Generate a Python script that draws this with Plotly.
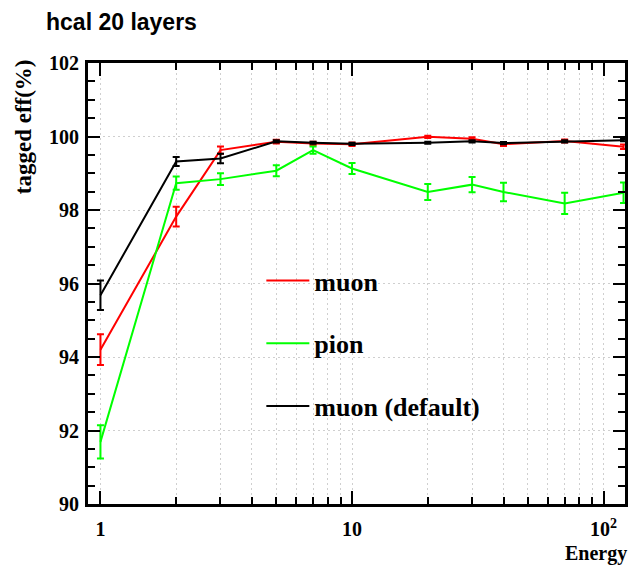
import plotly.graph_objects as go

# Beam energy points (GeV)
energy = [1, 2, 3, 5, 7, 10, 20, 30, 40, 70, 120]

# Tagging efficiency (%) and statistical uncertainties
muon = [94.20, 97.82, 99.63, 99.86, 99.81, 99.79, 99.99, 99.94, 99.79, 99.88, 99.72]
muon_err = [0.42, 0.27, 0.10, 0.05, 0.05, 0.05, 0.03, 0.04, 0.05, 0.04, 0.06]

pion = [91.69, 98.73, 98.84, 99.07, 99.63, 99.13, 98.49, 98.69, 98.49, 98.18, 98.47]
pion_err = [0.45, 0.18, 0.16, 0.15, 0.10, 0.15, 0.22, 0.21, 0.25, 0.29, 0.28]

muon_default = [95.68, 99.32, 99.40, 99.87, 99.83, 99.80, 99.83, 99.87, 99.82, 99.87, 99.90]
muon_default_err = [0.40, 0.12, 0.13, 0.03, 0.03, 0.03, 0.03, 0.03, 0.03, 0.03, 0.03]

series = [
    ("muon", muon, muon_err, "#ff0000"),
    ("pion", pion, pion_err, "#00ff00"),
    ("muon (default)", muon_default, muon_default_err, "#000000"),
]

x_ticks = [1, 10, 100]
x_ticktext = ["1", "10", "10<sup>2</sup>"]

SERIF = "Liberation Serif"
GRID = "#cfcfcf"

fig = go.Figure()
for i, (name, vals, errs, color) in enumerate(series):
    fig.add_trace(go.Scatter(
        x=energy, y=vals, name=name, mode="lines",
        line=dict(color=color, width=2),
        error_y=dict(type="data", array=errs, visible=True,
                     color=color, thickness=2, width=3.5),
        legendgroup=f"g{i}",
    ))

axis_common = dict(
    showline=True, linecolor="black", linewidth=3, mirror="allticks",
    ticks="inside", tickcolor="black", tickwidth=2,
    zeroline=False,
    gridcolor=GRID, griddash="2px,3px", gridwidth=1,
    tickfont=dict(family=SERIF, size=20, color="black", weight="bold"),
)

fig.update_xaxes(
    type="log", range=[-0.0495, 2.085],
    tickvals=x_ticks, ticktext=x_ticktext, ticklen=13,
    showgrid=True,
    minor=dict(dtick="D1", ticks="inside", ticklen=7, tickcolor="black",
               tickwidth=2, showgrid=True, gridcolor=GRID,
               griddash="2px,3px", gridwidth=1),
    ticklabelstandoff=5,
    **axis_common,
)
fig.update_yaxes(
    range=[90, 102], dtick=2, tick0=90, ticklen=12,
    showgrid=True,
    minor=dict(dtick=0.5, ticks="inside", ticklen=7, tickcolor="black",
               tickwidth=2, showgrid=False),
    ticklabelstandoff=2,
    **axis_common,
)

fig.update_layout(
    width=635, height=566,
    margin=dict(l=88, r=7, t=63, b=62),
    paper_bgcolor="white", plot_bgcolor="white",
    title=dict(text="hcal 20 layers", x=46 / 635, xanchor="left",
               y=1 - 22 / 566, yanchor="middle",
               font=dict(family="Liberation Sans", size=23, color="black",
                         weight="bold")),
    showlegend=True,
    legend=dict(x=0.3228, y=0.560, xanchor="left", yanchor="top",
                bgcolor="rgba(0,0,0,0)", borderwidth=0,
                tracegroupgap=26, traceorder="grouped", itemwidth=43,
                font=dict(family=SERIF, size=26, color="black", weight="bold")),
    annotations=[
        dict(text="tagged eff(%)", xref="paper", yref="paper",
             x=(23 - 88) / 539, y=(504 - 127) / 441, textangle=-90,
             xanchor="center", yanchor="middle", showarrow=False,
             font=dict(family=SERIF, size=23, color="black", weight="bold")),
        dict(text="Energy", xref="paper", yref="paper",
             x=(631 - 88) / 539, y=(504 - 553) / 441,
             xanchor="right", yanchor="middle", showarrow=False,
             font=dict(family=SERIF, size=20, color="black", weight="bold")),
    ],
)

fig.write_html("out.html")
